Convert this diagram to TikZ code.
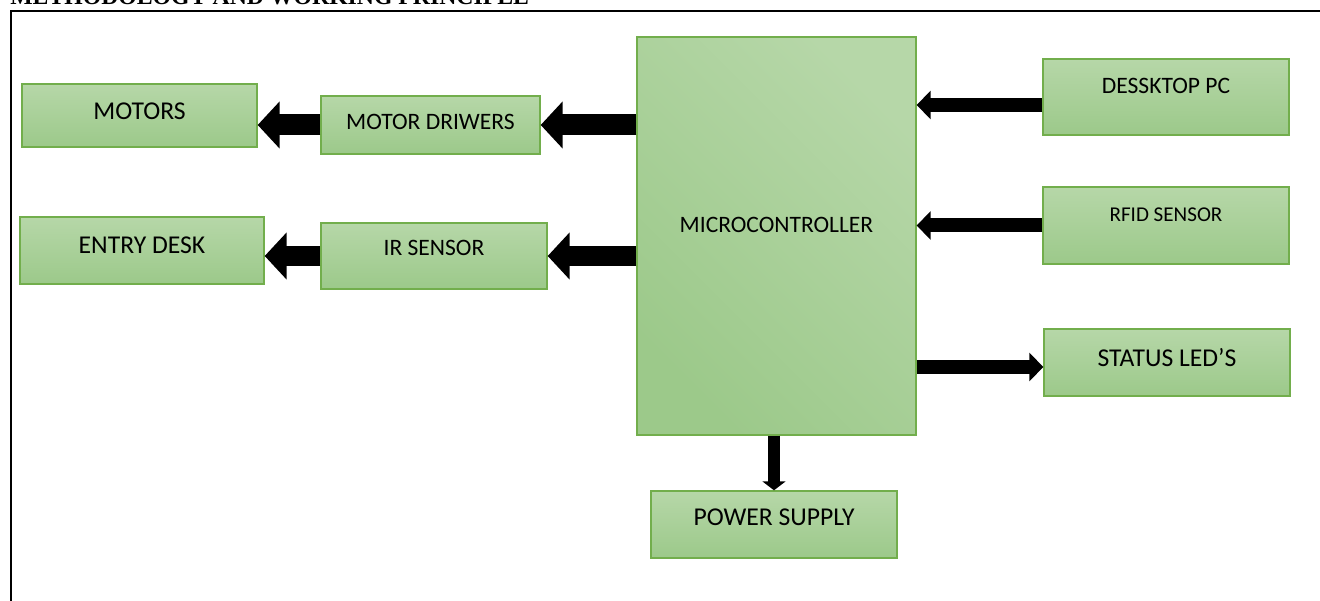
\documentclass[tikz,border=0pt]{standalone}
\usepackage{fontspec}
\setmainfont{Carlito}
\newfontfamily\titlefont{Liberation Serif}
\usetikzlibrary{arrows.meta, positioning}
\definecolor{verdeclaro}{HTML}{B6D7A8}
\definecolor{verdeescuro}{HTML}{9CC98A}
\definecolor{verdeborda}{HTML}{72AE4C}

\begin{document}
\begin{tikzpicture}[
    x=0.02cm, y=-0.02cm,   % 1 unidade = 1 pixel da figura
    line cap=butt,
    bloco/.style={rectangle, draw=verdeborda, line width=0.8pt, inner sep=0pt,
                  top color=verdeclaro, bottom color=verdeescuro, font=\fontsize{13.4}{15}\selectfont},
    grande/.style={font=\fontsize{14.6}{17}\selectfont},
    pequeno/.style={font=\fontsize{12}{14}\selectfont},
    sobe/.style={text depth=#1},
    setagrossa/.style={line width=0.42cm, -{Triangle[length=0.44cm, width=0.92cm]}},
    setafina/.style={line width=0.28cm, -{Triangle[length=0.28cm, width=0.56cm]}},
    setabaixo/.style={line width=0.24cm, -{Triangle[length=0.18cm, width=0.46cm]}}
  ]

  \useasboundingbox (0,0) rectangle (1320,601);

  % --- MOLDURA E TITULO ---
  \draw[line width=1.7pt] (11,620) -- (11,11) -- (1340,11);
  \node[anchor=base west, inner sep=0pt, font=\titlefont\bfseries\fontsize{13.5}{15}\selectfont]
    (titulo) at (10,5) {METHODOLOGY AND WORKING PRINCIPLE};

  % --- BLOCOS ---
  \node[bloco, shading angle=-45, minimum width=5.58cm, minimum height=7.96cm, sobe=0.44cm]
    (micro) at (776.5,236) {MICROCONTROLLER};
  \node[bloco, minimum width=4.38cm, minimum height=1.16cm, sobe=0.12cm]
    (drv) at (430.5,125) {MOTOR DRIWERS};
  \node[bloco, grande, minimum width=4.70cm, minimum height=1.26cm, sobe=0.18cm]
    (motors) at (139.5,115.5) {MOTORS};
  \node[bloco, minimum width=4.52cm, minimum height=1.32cm, sobe=0.32cm]
    (ir) at (434,256) {IR SENSOR};
  \node[bloco, grande, minimum width=4.88cm, minimum height=1.34cm, sobe=0.22cm]
    (entry) at (142,250.5) {ENTRY DESK};
  \node[bloco, minimum width=4.92cm, minimum height=1.52cm, sobe=0.44cm]
    (pc) at (1166,97) {DESSKTOP PC};
  \node[bloco, pequeno, minimum width=4.92cm, minimum height=1.54cm, sobe=0.42cm]
    (rfid) at (1166,225.5) {RFID SENSOR};
  \node[bloco, grande, minimum width=4.92cm, minimum height=1.34cm, sobe=0.22cm]
    (led) at (1167,362.5) {STATUS LED’S};
  \node[bloco, grande, minimum width=4.92cm, minimum height=1.34cm, sobe=0.30cm]
    (pwr) at (774,524.5) {POWER SUPPLY};

  % --- SETAS ---
  \coordinate (pcx) at ([yshift=-0.16cm]pc.west);
  \coordinate (ledx) at ([yshift=-0.09cm]led.west);

  % Lado esquerdo
  \draw[setagrossa] (drv.east -| micro.west) -- (drv.east);
  \draw[setagrossa] (drv.west) -- (drv.west -| motors.east);
  \draw[setagrossa] (ir.east -| micro.west) -- (ir.east);
  \draw[setagrossa] (ir.west) -- (ir.west -| entry.east);

  % Lado direito
  \draw[setafina] (pcx) -- (pcx -| micro.east);
  \draw[setafina] (rfid.west) -- (rfid.west -| micro.east);
  \draw[setafina] (ledx -| micro.east) -- (ledx);

  % Fonte
  \draw[setabaixo] (pwr.north |- micro.south) -- (pwr.north);

\end{tikzpicture}
\end{document}
